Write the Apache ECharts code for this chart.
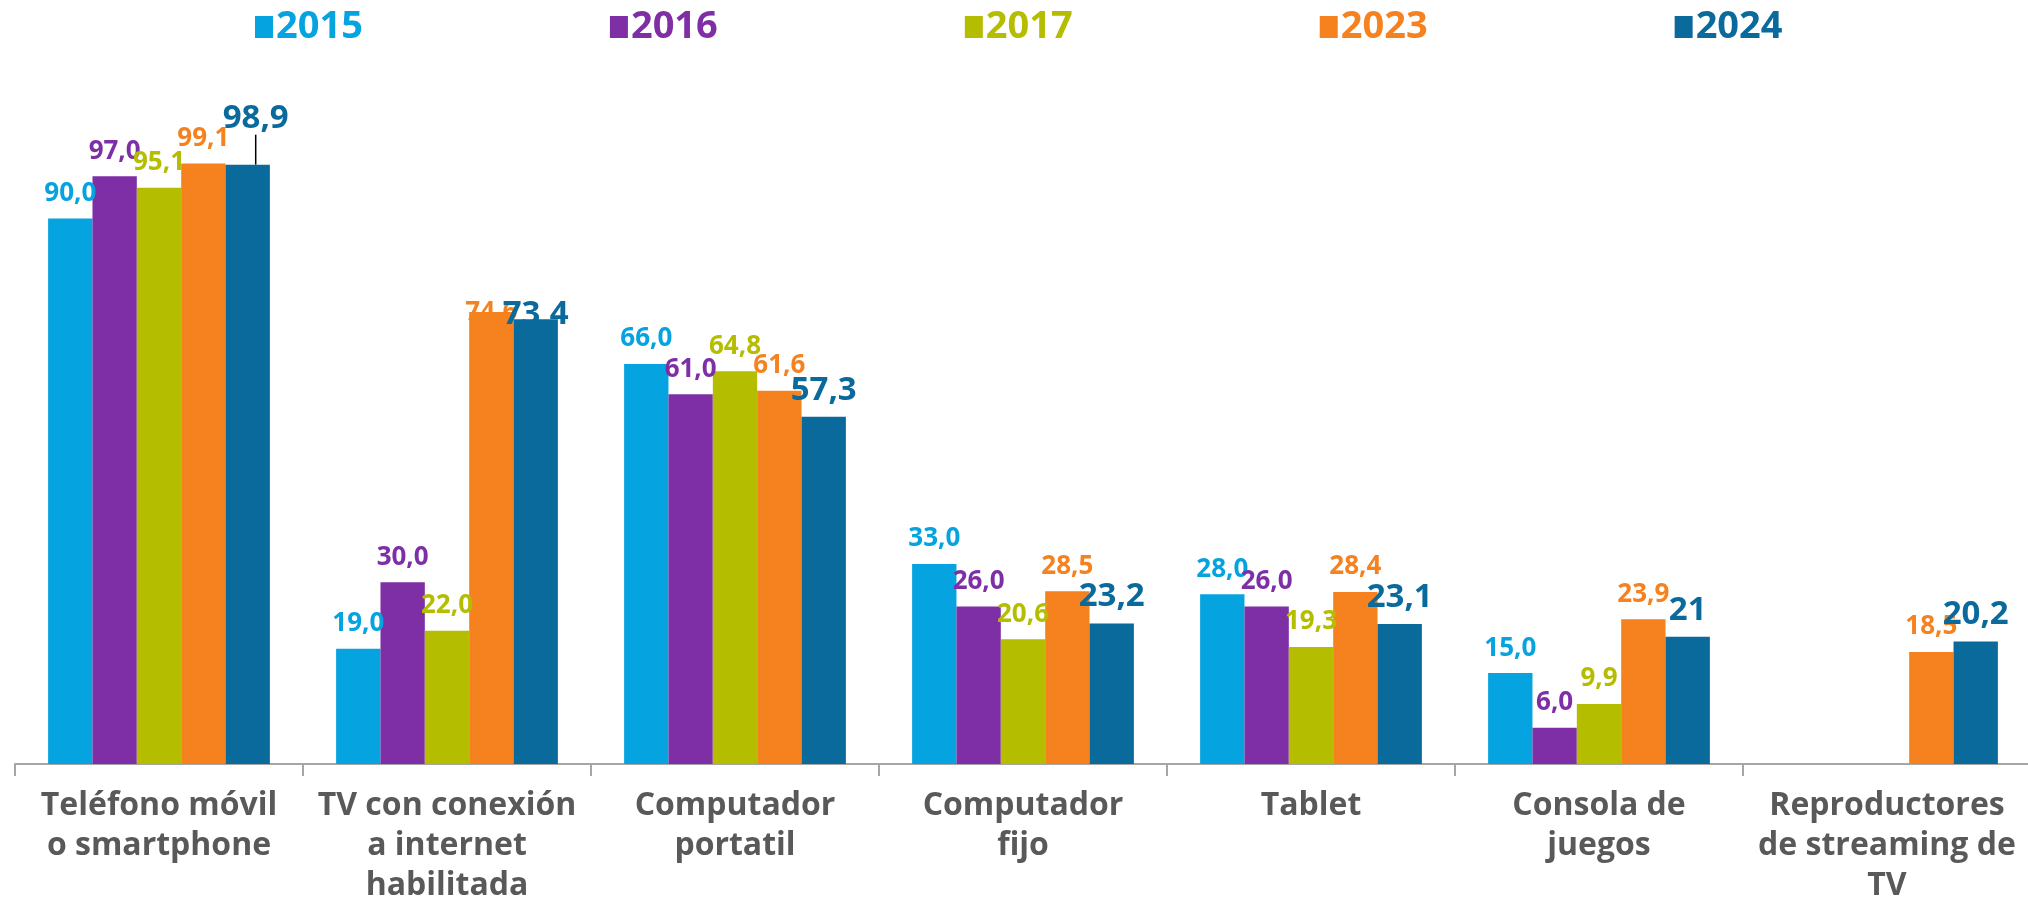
<!DOCTYPE html>
<html>
<head>
<meta charset="utf-8">
<script src="https://cdn.jsdelivr.net/npm/echarts@6/dist/echarts.min.js"></script>
<style>
  html, body { margin: 0; padding: 0; background: #fff; }
  #main { width: 2028px; height: 897px; }
</style>
</head>
<body>
<div id="main"></div>
<script>
// categorias y datos (porcentaje de hogares)
var categorias = [
    'Teléfono móvil\no smartphone',
    'TV con conexión\na internet\nhabilitada',
    'Computador\nportatil',
    'Computador\nfijo',
    'Tablet',
    'Consola de\njuegos',
    'Reproductores\nde streaming de\nTV'
];
var anios = ['2015', '2016', '2017', '2023', '2024'];
var colores = ['#05A3DF', '#7F2FA6', '#B5BD00', '#F5821F', '#0B6A9C'];

var d2015 = [90.0, 19.0, 66.0, 33.0, 28.0, 15.0, null];
var d2016 = [97.0, 30.0, 61.0, 26.0, 26.0, 6.0, null];
var d2017 = [95.1, 22.0, 64.8, 20.6, 19.3, 9.9, null];
var d2023 = [99.1, 74.6, 61.6, 28.5, 28.4, 23.9, 18.5];
var d2024 = [98.9, 73.4, 57.3, 23.2, 23.1, 21, 20.2];
var etiquetas2024 = ['98,9', '73,4', '57,3', '23,2', '23,1', '21', '20,2'];

var datos = [d2015, d2016, d2017, d2023, d2024];

function formato(v) {
    return v.toFixed(1).replace('.', ',');
}

function initChart() {
    var myChart = echarts.init(document.getElementById('main'));
    var seriesObj = [];
    $each(datos, function (i, serie) {
        var esUltimo = i === datos.length - 1;
        var data = serie.map(function (v, j) {
            if (v === null) return null;
            var item = { value: v };
            if (esUltimo && j === 0) {
                // etiqueta desplazada con linea guia
                item.labelLine = { show: true, lineStyle: { color: '#000', width: 1.5 } };
            }
            return item;
        });
        seriesObj.push({
            name: anios[i],
            type: 'bar',
            barGap: '0%',
            barCategoryGap: '23%',
            itemStyle: { color: colores[i] },
            label: {
                show: true,
                position: 'top',
                distance: esUltimo ? 10 : 12,
                color: colores[i],
                fontFamily: 'Open Sans',
                fontWeight: 'bold',
                fontSize: esUltimo ? 33 : 26,
                formatter: function (p) {
                    return esUltimo ? etiquetas2024[p.dataIndex] : formato(p.value);
                }
            },
            labelLayout: function (p) {
                // ajustes manuales como en el original
                if (esUltimo && p.dataIndex === 0) return { dy: -20, dx: 8 };
                if (esUltimo && p.dataIndex === 1) return { dy: 22 };
                if (i === 3 && p.dataIndex === 1) return { dy: 26 };
                return {};
            },
            data: data
        });
    });

    var option = {
        animation: false,
        legend: {
            top: 3,
            left: 250,
            itemGap: 247,
            itemWidth: 18,
            itemHeight: 22,
            icon: 'rect',
            textStyle: {
                fontFamily: 'Open Sans',
                fontWeight: 'bold',
                fontSize: 38,
                padding: [0, 0, 0, -2]
            },
            data: anios.map(function (a, i) {
                return { name: a, textStyle: { color: colores[i] } };
            })
        },
        grid: {
            left: 15,
            width: 2016,
            top: 158,
            bottom: 133,
            containLabel: false,
            outerBoundsMode: 'none'
        },
        xAxis: {
            type: 'category',
            data: categorias,
            axisLine: { lineStyle: { color: '#A6A6A6', width: 2 } },
            axisTick: { show: true, length: 12, lineStyle: { color: '#A6A6A6', width: 2 } },
            axisLabel: {
                interval: 0,
                margin: 22,
                color: '#595959',
                fontFamily: 'Open Sans',
                fontWeight: 'bold',
                fontSize: 32,
                lineHeight: 40
            }
        },
        yAxis: {
            type: 'value',
            min: 0,
            max: 100,
            show: false,
            splitLine: { show: false }
        },
        series: seriesObj
    };

    myChart.setOption(option);
}

function $each(arr, fn) {
    for (var i = 0; i < arr.length; i++) fn(i, arr[i]);
}

initChart();
</script>
</body>
</html>
